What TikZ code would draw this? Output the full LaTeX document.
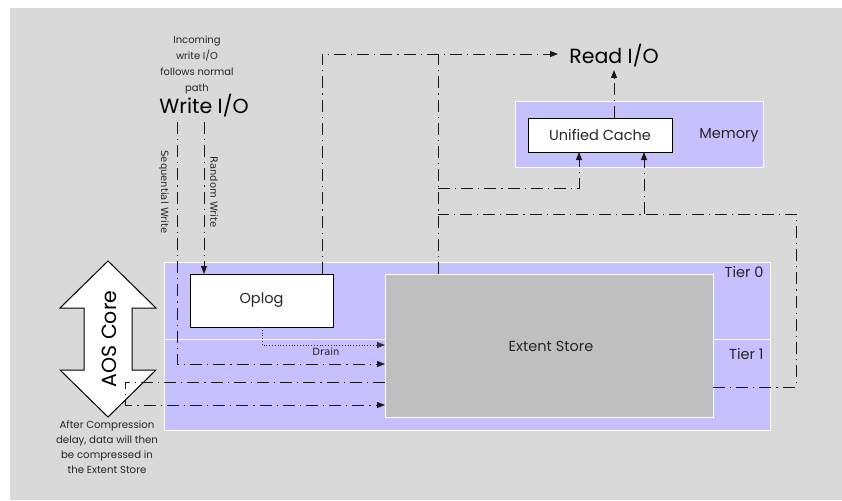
\documentclass[tikz,border=0pt]{standalone}
\usepackage{fontspec}
\setmainfont{Poppins}
\newfontfamily\labelfont{DejaVu Sans}
\usetikzlibrary{arrows.meta}
\definecolor{bggray}{HTML}{D9D9D9}
\definecolor{tierpurple}{HTML}{C7C0FE}
\definecolor{storegray}{HTML}{BFBFBF}
\definecolor{txt}{HTML}{262626}
\tikzset{
  flow/.style={draw=black!90, line width=0.9pt,
    dash pattern=on 12pt off 5pt on 1.2pt off 5pt},
  drainline/.style={draw=black!80, line width=0.8pt, dotted},
  tip/.style={-{Triangle[length=8pt,width=6pt]}},
  whitebox/.style={draw=black, line width=1pt, fill=white, inner sep=0pt},
  tierbox/.style={draw=white, line width=1pt, fill=tierpurple},
  small/.style={font=\fontsize{10}{16}\selectfont, text=txt, align=center},
  mid/.style={font=\fontsize{14.5}{17}\selectfont, text=txt},
  big/.style={font=\fontsize{20.5}{24}\selectfont, text=black},
  vlabel/.style={font=\labelfont\fontsize{10}{12}\selectfont, text=txt}
}
\begin{document}
\begin{tikzpicture}[x=1pt,y=-1pt]
\useasboundingbox (0,0) rectangle (842,500);
\fill[bggray] (10,8) rectangle (842,500);

% storage tiers and extent store
\draw[tierbox] (164,262) rectangle (770,339);
\draw[tierbox] (164,339) rectangle (770,430);
\node[mid, anchor=east] (t0) at (767,272) {Tier 0};
\node[mid, anchor=east] (t1) at (767,354) {Tier 1};
\node[draw=white, line width=1pt, fill=storegray, minimum width=328pt,
      minimum height=143pt, inner sep=0pt] (es) at (549,345.5) {};
\node[mid] (esl) at (551,346) {Extent Store};
\node[whitebox, mid, minimum width=143pt, minimum height=53pt] (oplog) at (261.5,300.5) {Oplog};

% memory tier
\node[tierbox, minimum width=248pt, minimum height=65pt, inner sep=0pt] (mem) at (639,134.5) {};
\node[mid] (meml) at (729,135) {Memory};
\node[whitebox, mid, minimum width=144pt, minimum height=34pt] (cache) at (600,135) {Unified Cache};

% I/O labels
\node[big] (read) at (614,56) {Read I/O};
\node[big] (write) at (204,106) {Write I/O};
\node[small] (incoming) at (197,65) {Incoming\\write I/O\\follows normal\\path};

% AOS core double arrow
\draw[fill=white, draw=black, line width=1pt]
  (108,261) -- (156,308) -- (132,308) -- (132,370) -- (156,370) -- (108,417)
  -- (60,370) -- (84,370) -- (84,308) -- (60,308) -- cycle;
\node[big, rotate=90] (aos) at (109,339) {AOS Core};
\node[small, font=\fontsize{10.2}{15}\selectfont] (compr) at (107,447)
  {After Compression\\delay, data will then\\be compressed in\\the Extent Store};

% connector end points
\coordinate (wseq) at (177,122);
\coordinate (wrand) at (204,122);
\coordinate (opout) at (322,274);
\coordinate (topjoin) at (322,54);
\coordinate (readin) at (558,54);
\coordinate (esup) at (438,274);
\coordinate (esupend) at (438,54);
\coordinate (cachein1) at (579,152);
\coordinate (cachein2) at (644,152);
\coordinate (esright) at (713,387);
\coordinate (loopr) at (796,387);
\coordinate (loopt) at (796,214);
\coordinate (loopl) at (438,214);
\coordinate (cacheout) at (614,118);
\coordinate (readbot) at (614,70);

% write paths
\draw[flow, tip] (wrand) -- (204,274);
\draw[flow, tip] (wseq) |- (385,364);
\draw[drainline, tip] (262,327) |- (385,345);
\node[vlabel] (drain) at (326,352) {Drain};
\node[vlabel, rotate=-90] (seql) at (164,192) {Sequential Write};
\node[vlabel, rotate=-90] (randl) at (214,192) {Random Write};

% read paths
\draw[flow, tip] (opout) -- (topjoin) -- (readin);
\draw[flow] (esup) -- (esupend);
\draw[flow, tip] (438,188) -| (cachein1);
\draw[flow] (esright) -- (loopr) -- (loopt) -- (loopl);
\draw[flow, tip] (644,214) -- (cachein2);
\draw[flow, tip] (cacheout) -- (readbot);

% compression round trip
\draw[flow, tip] (385,382) -- (125,382) -- (125,405) -- (385,405);
\end{tikzpicture}
\end{document}
